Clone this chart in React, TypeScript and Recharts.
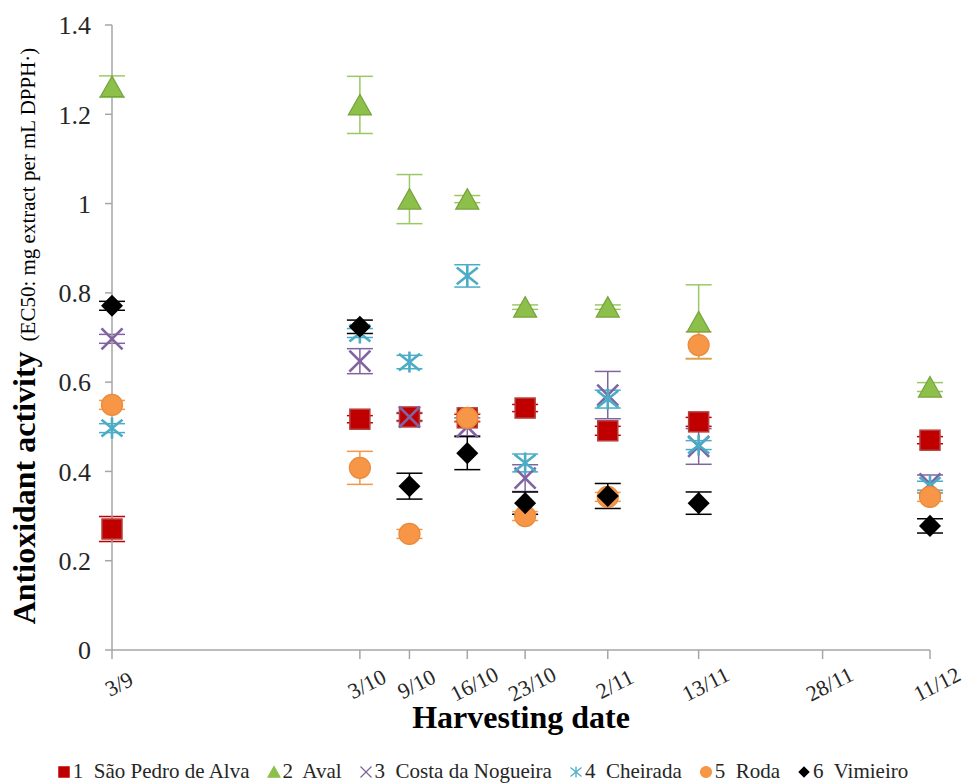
import { ScatterChart, Scatter, XAxis, YAxis, ErrorBar } from "recharts";

// Antioxidant activity (EC50) of six sampling sites across the harvest season.
const SERIF = '"Liberation Serif", "Times New Roman", serif';
const AXIS = "#A6A6A6";
const INK = "#262626";

// x is days counted from 3 September
const tickDays = [0, 30, 36, 43, 50, 60, 71, 86, 99];
const tickLabels = ["3/9", "3/10", "9/10", "16/10", "23/10", "2/11", "13/11", "28/11", "11/12"];
const sampleDays = [0, 30, 36, 43, 50, 60, 71, 99];
const yTicks = [0, 0.2, 0.4, 0.6, 0.8, 1, 1.2, 1.4];

const saoPedro = [0.271, 0.517, 0.522, 0.52, 0.542, 0.491, 0.511, 0.47];
const saoPedroSd = [0.028, 0.008, 0.008, 0.008, 0.008, 0.01, 0.01, 0.008];
const aval = [1.262, 1.221, 1.01, 1.01, 0.768, 0.768, 0.735, 0.589];
const avalSd = [0.024, 0.064, 0.055, 0.008, 0.005, 0.005, 0.083, 0.01];
const costa = [0.697, 0.647, 0.522, 0.5, 0.385, 0.571, 0.456, 0.372];
const costaSd = [0.01, 0.028, 0.01, 0.02, 0.03, 0.053, 0.04, 0.02];
const cheirada = [0.497, 0.71, 0.645, 0.838, 0.419, 0.562, 0.459, 0.368];
const cheiradaSd = [0.01, 0.01, 0.015, 0.025, 0.02, 0.02, 0.01, 0.01];
const roda = [0.549, 0.408, 0.26, 0.52, 0.3, 0.343, 0.683, 0.343];
const rodaSd = [0.01, 0.037, 0.01, 0.01, 0.01, 0.01, 0.03, 0.01];
const vimieiro = [0.771, 0.724, 0.367, 0.441, 0.329, 0.345, 0.329, 0.278];
const vimieiroSd = [0.01, 0.015, 0.029, 0.037, 0.025, 0.028, 0.025, 0.016];

type Kind = "square" | "triangle" | "cross" | "star" | "circle" | "diamond";

const series: { num: string; name: string; values: number[]; sd: number[]; color: string; edge: string; bar: string; kind: Kind }[] = [
  { num: "1", name: "São Pedro de Alva", values: saoPedro, sd: saoPedroSd, color: "#C00000", edge: "#B5403D", bar: "#C00000", kind: "square" },
  { num: "2", name: "Aval", values: aval, sd: avalSd, color: "#8CC04B", edge: "#76A33B", bar: "#9BC865", kind: "triangle" },
  { num: "3", name: "Costa da Nogueira", values: costa, sd: costaSd, color: "#8064A2", edge: "#8064A2", bar: "#8064A2", kind: "cross" },
  { num: "4", name: "Cheirada", values: cheirada, sd: cheiradaSd, color: "#4BACC6", edge: "#4BACC6", bar: "#4BACC6", kind: "star" },
  { num: "5", name: "Roda", values: roda, sd: rodaSd, color: "#F79646", edge: "#E88A3C", bar: "#F79646", kind: "circle" },
  { num: "6", name: "Vimieiro", values: vimieiro, sd: vimieiroSd, color: "#000000", edge: "#000000", bar: "#000000", kind: "diamond" },
];

function Marker({ kind, cx, cy, h, color, edge }: { kind: Kind; cx: number; cy: number; h: number; color: string; edge: string }) {
  const sw = h > 7 ? 2.6 : 1.3;
  switch (kind) {
    case "square":
      return <rect x={cx - h + 0.5} y={cy - h + 0.5} width={2 * h - 1} height={2 * h - 1} fill={color} stroke={edge} strokeWidth={1.5} />;
    case "triangle":
      return <polygon points={`${cx},${cy - h} ${cx + h * 1.1},${cy + h * 0.95} ${cx - h * 1.1},${cy + h * 0.95}`} fill={color} stroke={edge} strokeWidth={1.2} />;
    case "cross":
      return (
        <g stroke={color} strokeWidth={sw}>
          <line x1={cx - h} y1={cy - h} x2={cx + h} y2={cy + h} />
          <line x1={cx - h} y1={cy + h} x2={cx + h} y2={cy - h} />
        </g>
      );
    case "star":
      return (
        <g stroke={color} strokeWidth={sw}>
          <line x1={cx - h} y1={cy - h * 0.8} x2={cx + h} y2={cy + h * 0.8} />
          <line x1={cx - h} y1={cy + h * 0.8} x2={cx + h} y2={cy - h * 0.8} />
          <line x1={cx} y1={cy - h} x2={cx} y2={cy + h} />
        </g>
      );
    case "circle":
      return <circle cx={cx} cy={cy} r={h} fill={color} stroke={edge} strokeWidth={1.2} />;
    default:
      return <polygon points={`${cx},${cy - h * 1.05} ${cx + h * 1.05},${cy} ${cx},${cy + h * 1.05} ${cx - h * 1.05},${cy}`} fill={color} />;
  }
}

const fmtY = (v: number) => (v === 0 || v === 1 ? String(v) : v.toFixed(1));

function DateTick({ x, y, payload }: { x: number; y: number; payload: { value: number } }) {
  const label = tickLabels[tickDays.indexOf(payload.value)] ?? "";
  const tx = x + 7;
  const ty = y + 23;
  return (
    <text x={tx} y={ty} textAnchor="middle" dominantBaseline="central" transform={`rotate(-27 ${tx} ${ty})`}
      fontFamily={SERIF} fontSize={22} fill={INK}>
      {label}
    </text>
  );
}

function YTitle() {
  return (
    <text x={35} y={336} transform="rotate(-90 35 336)" textAnchor="middle" fontFamily={SERIF} fill="#000">
      <tspan fontSize={32} fontWeight="bold">Antioxidant activity</tspan>
      <tspan fontSize={21} dx={10}>(EC50: mg extract per mL DPPH·)</tspan>
    </text>
  );
}

export default function App() {
  return (
    <div style={{ position: "absolute", left: 0, top: 0, width: 965, height: 783, background: "#fff" }}>
      <ScatterChart width={965} height={783} margin={{ top: 25, right: 35, bottom: 0, left: 0 }}>
        <XAxis type="number" dataKey="day" domain={[0, 99]} ticks={tickDays} interval={0} height={133}
          axisLine={{ stroke: AXIS, strokeWidth: 1.5 }} tickLine={{ stroke: AXIS, strokeWidth: 1.5 }} tickSize={9}
          tick={DateTick}
          label={{ value: "Harvesting date", position: "insideBottom", offset: 55, fontFamily: SERIF, fontSize: 32, fontWeight: "bold", fill: "#000" }} />
        <YAxis type="number" dataKey="value" domain={[0, 1.4]} ticks={yTicks} width={112}
          axisLine={{ stroke: AXIS, strokeWidth: 1.5 }} tickLine={{ stroke: AXIS, strokeWidth: 1.5 }} tickSize={7} tickMargin={14}
          tickFormatter={fmtY} tick={{ fontFamily: SERIF, fontSize: 26, fill: INK }}
          label={{ content: () => <YTitle /> }} />
        {series.map((s) => (
          <Scatter key={s.name} name={s.name} isAnimationActive={false}
            data={sampleDays.map((day, i) => ({ day, value: s.values[i], sd: s.sd[i] }))}
            shape={(p: { cx: number; cy: number }) => <Marker kind={s.kind} cx={p.cx} cy={p.cy} h={10.5} color={s.color} edge={s.edge} />}>
            <ErrorBar dataKey="sd" direction="y" width={13} stroke={s.bar} strokeWidth={1.5} />
          </Scatter>
        ))}
      </ScatterChart>
      <div style={{ position: "absolute", left: 0, top: 759, width: 965, display: "flex", justifyContent: "center", alignItems: "center", gap: 17, fontFamily: SERIF, fontSize: 21, color: INK, whiteSpace: "pre" }}>
        {series.map((s) => (
          <span key={s.name} style={{ display: "inline-flex", alignItems: "center" }}>
            <svg width={14} height={14} style={{ marginRight: 2 }}>
              <Marker kind={s.kind} cx={7} cy={7} h={5.5} color={s.color} edge={s.color} />
            </svg>
            {`${s.num}  ${s.name}`}
          </span>
        ))}
      </div>
    </div>
  );
}
